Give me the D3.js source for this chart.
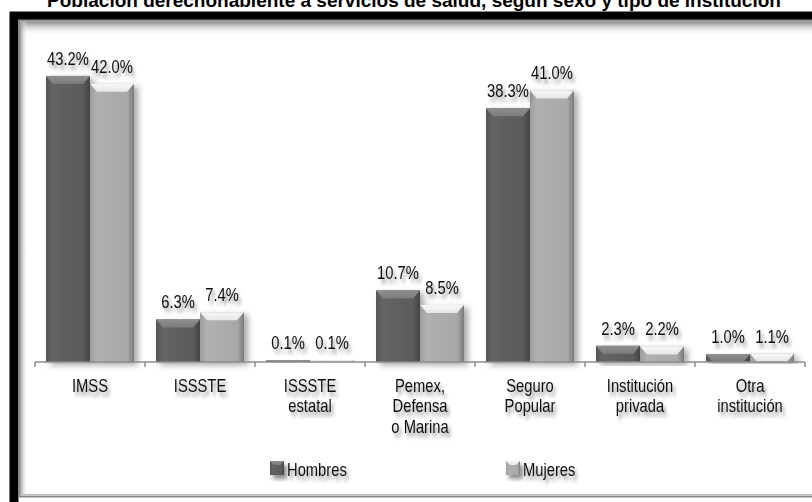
<!DOCTYPE html>
<html>
<head>
<meta charset="utf-8">
<script src="https://cdn.jsdelivr.net/npm/d3@7"></script>
<style>
	html, body { margin: 0; padding: 0; background: #fff; }
	svg { display: block; }
	.lbl { font-family: 'Liberation Sans', Arial, sans-serif; fill: #111; }
</style>
</head>
<body>
<svg id="chart" width="812" height="502"></svg>
<script>
// data
const categories = [
	['IMSS'],
	['ISSSTE'],
	['ISSSTE', 'estatal'],
	['Pemex,', 'Defensa', 'o Marina'],
	['Seguro', 'Popular'],
	['Institución', 'privada'],
	['Otra', 'institución']
]
const seriesNames = ['Hombres', 'Mujeres']
const hombres = [43.2, 6.3, 0.1, 10.7, 38.3, 2.3, 1.0]
const mujeres = [42.0, 7.4, 0.1, 8.5, 41.0, 2.2, 1.1]
const title = 'Población derechohabiente a servicios de salud, según sexo y tipo de institución'

const W = 812
const H = 502
const narrow = 0.82 // the labels use a condensed face
const svg = d3.select('#chart')
const defs = svg.append('defs')

// soft shadow used on texts and bars
const ts = defs.append('filter').attr('id', 'tshadow')
	.attr('x', '-20%').attr('y', '-30%').attr('width', '150%').attr('height', '180%')
ts.append('feDropShadow')
	.attr('dx', 3).attr('dy', 4).attr('stdDeviation', 2)
	.attr('flood-color', '#000').attr('flood-opacity', 0.45)

const bs = defs.append('filter').attr('id', 'bshadow')
	.attr('x', '-20%').attr('y', '-10%').attr('width', '160%').attr('height', '130%')
bs.append('feDropShadow')
	.attr('dx', 4).attr('dy', 3).attr('stdDeviation', 3)
	.attr('flood-color', '#000').attr('flood-opacity', 0.35)

// bar gradients
const palette = {
	Hombres: { body: ['#555', '#646464', '#5a5a5a', '#444'], top: '#7c7c7c', topHi: '#8e8e8e' },
	Mujeres: { body: ['#9c9c9c', '#b0b0b0', '#a8a8a8', '#7a7a7a'], top: '#e6e6e6', topHi: '#f7f7f7' }
}
seriesNames.forEach(s => {
	const g = defs.append('linearGradient').attr('id', 'g' + s)
		.attr('x1', 0).attr('x2', 1).attr('y1', 0).attr('y2', 0)
	const c = palette[s].body
	g.append('stop').attr('offset', '0%').attr('stop-color', c[0])
	g.append('stop').attr('offset', '15%').attr('stop-color', c[1])
	g.append('stop').attr('offset', '85%').attr('stop-color', c[2])
	g.append('stop').attr('offset', '100%').attr('stop-color', c[3])
	const t = defs.append('linearGradient').attr('id', 't' + s)
		.attr('x1', 0).attr('x2', 0).attr('y1', 0).attr('y2', 1)
	t.append('stop').attr('offset', '0%').attr('stop-color', palette[s].topHi)
	t.append('stop').attr('offset', '100%').attr('stop-color', palette[s].top)
})

// inner frame shading
const topShade = defs.append('linearGradient').attr('id', 'topShade')
	.attr('x1', 0).attr('x2', 0).attr('y1', 0).attr('y2', 1)
topShade.append('stop').attr('offset', '0%').attr('stop-color', '#888')
topShade.append('stop').attr('offset', '100%').attr('stop-color', '#fff').attr('stop-opacity', 0)
const leftShade = defs.append('linearGradient').attr('id', 'leftShade')
	.attr('x1', 0).attr('x2', 1).attr('y1', 0).attr('y2', 0)
leftShade.append('stop').attr('offset', '0%').attr('stop-color', '#999')
leftShade.append('stop').attr('offset', '100%').attr('stop-color', '#fff').attr('stop-opacity', 0)

// title (its top is cut off by the edge of the picture, as in the source)
svg.append('text')
	.attr('x', 414).attr('y', 7)
	.attr('text-anchor', 'middle')
	.attr('font-family', 'Liberation Sans, sans-serif')
	.attr('font-weight', 'bold')
	.attr('font-size', 19)
	.attr('fill', '#000')
	.text(title)

// black frame
svg.append('rect')
	.attr('x', 14).attr('y', 16).attr('width', W + 20).attr('height', H - 16 + 10)
	.attr('fill', 'none').attr('stroke', '#000').attr('stroke-width', 9)
svg.append('rect')
	.attr('x', 19).attr('y', 20.5).attr('width', W + 10).attr('height', 476)
	.attr('fill', '#fff').attr('stroke', '#8a8a8a').attr('stroke-width', 2)
svg.append('rect').attr('x', 20).attr('y', 21.5).attr('width', W).attr('height', 14).attr('fill', 'url(#topShade)')
svg.append('rect').attr('x', 20).attr('y', 21.5).attr('width', 8).attr('height', 474).attr('fill', 'url(#leftShade)')
svg.append('line').attr('x1', 20).attr('x2', W).attr('y1', 494.5).attr('y2', 494.5).attr('stroke', '#bbb')

// scales
const baseY = 362
const x0 = d3.scaleBand().domain(d3.range(categories.length)).range([35, 805])
const x1 = d3.scaleBand().domain(seriesNames).range([0, x0.bandwidth()]).paddingOuter(0.25)
const y = d3.scaleLinear().domain([0, 50]).range([baseY, 32])

const rows = categories.map((c, i) => ({ i, values: [
	{ s: 'Hombres', v: hombres[i] },
	{ s: 'Mujeres', v: mujeres[i] }
] }))

const plot = svg.append('g')

const groups = plot.selectAll('g.grp')
	.data(rows)
	.enter()
	.append('g')
	.attr('class', 'grp')
	.attr('transform', d => `translate(${x0(d.i)},0)`)

const bars = groups.selectAll('g.bar')
	.data(d => d.values)
	.enter()
	.append('g')
	.attr('class', 'bar')
	.attr('filter', 'url(#bshadow)')

bars.append('rect')
	.attr('x', d => x1(d.s))
	.attr('y', d => y(d.v) - 1)
	.attr('width', x1.bandwidth())
	.attr('height', d => baseY - y(d.v) + 1)
	.attr('fill', d => `url(#g${d.s})`)

// top bevel
bars.append('path')
	.attr('d', d => {
		const xl = x1(d.s)
		const xr = xl + x1.bandwidth()
		const t = y(d.v) - 1
		const h = Math.min(8, baseY - t)
		const inset = Math.min(7, h)
		return `M${xl},${t}L${xr},${t}L${xr - inset},${t + h}L${xl + inset},${t + h}Z`
	})
	.attr('fill', d => `url(#t${d.s})`)

// value labels
groups.selectAll('text.val')
	.data(d => d.values)
	.enter()
	.append('text')
	.attr('class', 'lbl val')
	.attr('transform', d => `translate(${x1(d.s) + x1.bandwidth() / 2},${y(d.v) - 12}) scale(${narrow},1)`)
	.attr('text-anchor', 'middle')
	.attr('font-size', 18)
	.attr('filter', 'url(#tshadow)')
	.text(d => d.v.toFixed(1) + '%')

// axis line and boundary ticks
const axis = svg.append('g').attr('transform', `translate(0,${baseY})`)
axis.append('line')
	.attr('x1', x0.range()[0]).attr('x2', x0.range()[1])
	.attr('stroke', '#8c8c8c').attr('stroke-width', 1.5)
axis.selectAll('line.tick')
	.data(d3.range(categories.length + 1))
	.enter()
	.append('line')
	.attr('class', 'tick')
	.attr('x1', i => x0.range()[0] + i * x0.step())
	.attr('x2', i => x0.range()[0] + i * x0.step())
	.attr('y1', 0).attr('y2', 5)
	.attr('stroke', '#8c8c8c').attr('stroke-width', 1.5)

// category labels
svg.append('g').selectAll('text')
	.data(categories)
	.enter()
	.append('text')
	.attr('class', 'lbl')
	.attr('font-size', 18)
	.attr('text-anchor', 'middle')
	.attr('filter', 'url(#tshadow)')
	.attr('transform', (d, i) => `translate(${x0(i) + x0.bandwidth() / 2},392) scale(${narrow},1)`)
	.selectAll('tspan')
	.data(d => d)
	.enter()
	.append('tspan')
	.attr('x', 0)
	.attr('y', (d, j) => j * 20.5)
	.text(d => d)

// legend
const legendX = [270, 506]
const legend = svg.append('g').selectAll('g')
	.data(seriesNames)
	.enter()
	.append('g')
	.attr('transform', (d, i) => `translate(${legendX[i]},461)`)
legend.append('rect')
	.attr('width', 14).attr('height', 14)
	.attr('fill', d => `url(#g${d})`)
	.attr('filter', 'url(#tshadow)')
legend.append('path')
	.attr('d', 'M0,0L14,0L10,4L4,4Z')
	.attr('fill', d => `url(#t${d})`)
legend.append('text')
	.attr('class', 'lbl')
	.attr('transform', `translate(17,15) scale(${narrow},1)`)
	.attr('font-size', 18)
	.attr('filter', 'url(#tshadow)')
	.text(d => d)
</script>
</body>
</html>
